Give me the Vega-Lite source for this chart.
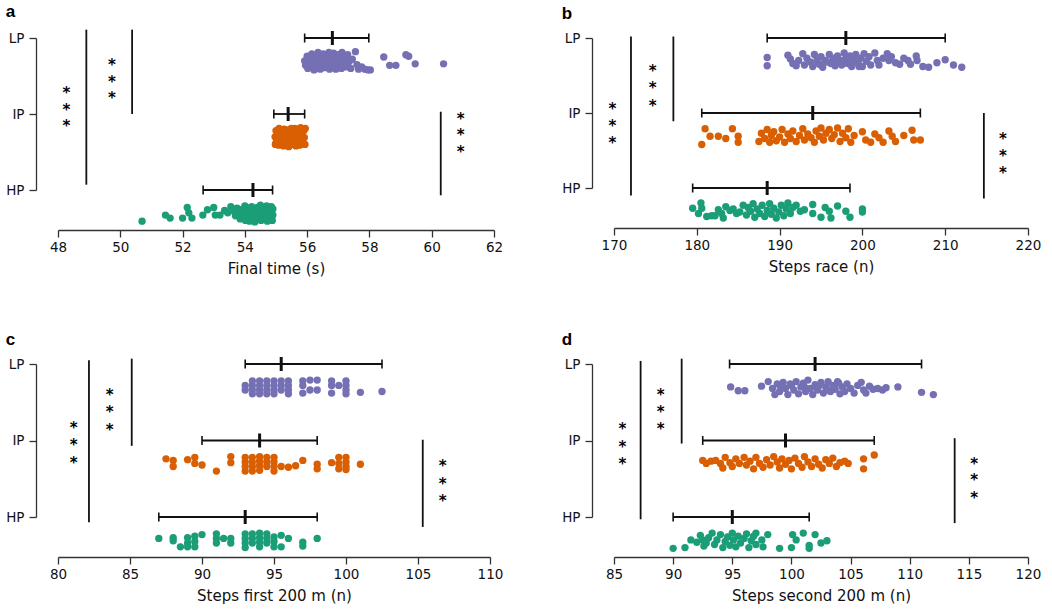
{
  "$schema": "https://vega.github.io/schema/vega-lite/v6.json",
  "padding": {"left": 5, "right": 5, "top": 2, "bottom": 3},
  "background": "white",
  "config": {
    "view": {"stroke": null},
    "font": "DejaVu Sans",
    "axis": {"grid": false, "domainColor": "#333", "tickColor": "#333", "domainWidth": 1.3, "tickWidth": 1.3, "tickSize": 7, "labelFont": "DejaVu Sans", "labelFontSize": 13.5, "labelColor": "#111", "titleFont": "DejaVu Sans", "titleFontSize": 15, "titleFontWeight": "normal", "titleColor": "#111"},
    "axisX": {"offset": 40, "labelPadding": 3, "titlePadding": 8, "labelFlush": false},
    "axisY": {"offset": 22, "labelPadding": 5},
    "tick": {"opacity": 1},
    "title": {"anchor": "start", "frame": "bounds", "font": "Liberation Sans", "fontSize": 17, "fontWeight": "bold", "color": "#000", "offset": 8}
  },
  "datasets": {
    "pts": [
      {"p":"a","g":"LP","v":55.92,"y":2.70},{"p":"a","g":"LP","v":55.95,"y":2.64},{"p":"a","g":"LP","v":56.0,"y":2.76},{"p":"a","g":"LP","v":56.02,"y":2.60},{"p":"a","g":"LP","v":56.05,"y":2.68},{"p":"a","g":"LP","v":56.1,"y":2.73},{"p":"a","g":"LP","v":56.12,"y":2.62},{"p":"a","g":"LP","v":56.15,"y":2.79},{"p":"a","g":"LP","v":56.2,"y":2.66},{"p":"a","g":"LP","v":56.22,"y":2.58},{"p":"a","g":"LP","v":56.25,"y":2.71},{"p":"a","g":"LP","v":56.3,"y":2.76},{"p":"a","g":"LP","v":56.32,"y":2.63},{"p":"a","g":"LP","v":56.35,"y":2.81},{"p":"a","g":"LP","v":56.4,"y":2.69},{"p":"a","g":"LP","v":56.42,"y":2.59},{"p":"a","g":"LP","v":56.45,"y":2.74},{"p":"a","g":"LP","v":56.5,"y":2.65},{"p":"a","g":"LP","v":56.52,"y":2.79},{"p":"a","g":"LP","v":56.55,"y":2.61},{"p":"a","g":"LP","v":56.6,"y":2.71},{"p":"a","g":"LP","v":56.62,"y":2.76},{"p":"a","g":"LP","v":56.65,"y":2.65},{"p":"a","g":"LP","v":56.7,"y":2.81},{"p":"a","g":"LP","v":56.72,"y":2.59},{"p":"a","g":"LP","v":56.75,"y":2.69},{"p":"a","g":"LP","v":56.8,"y":2.75},{"p":"a","g":"LP","v":56.82,"y":2.63},{"p":"a","g":"LP","v":56.85,"y":2.80},{"p":"a","g":"LP","v":56.9,"y":2.67},{"p":"a","g":"LP","v":56.92,"y":2.59},{"p":"a","g":"LP","v":56.95,"y":2.73},{"p":"a","g":"LP","v":57.0,"y":2.78},{"p":"a","g":"LP","v":57.02,"y":2.64},{"p":"a","g":"LP","v":57.05,"y":2.70},{"p":"a","g":"LP","v":57.1,"y":2.60},{"p":"a","g":"LP","v":57.12,"y":2.81},{"p":"a","g":"LP","v":57.15,"y":2.67},{"p":"a","g":"LP","v":57.2,"y":2.74},{"p":"a","g":"LP","v":57.25,"y":2.62},{"p":"a","g":"LP","v":57.3,"y":2.78},{"p":"a","g":"LP","v":57.35,"y":2.69},{"p":"a","g":"LP","v":57.4,"y":2.60},{"p":"a","g":"LP","v":57.45,"y":2.72},{"p":"a","g":"LP","v":57.55,"y":2.82},{"p":"a","g":"LP","v":57.6,"y":2.65},{"p":"a","g":"LP","v":57.65,"y":2.59},{"p":"a","g":"LP","v":57.75,"y":2.62},{"p":"a","g":"LP","v":57.85,"y":2.59},{"p":"a","g":"LP","v":57.95,"y":2.58},{"p":"a","g":"LP","v":58.03,"y":2.58},{"p":"a","g":"LP","v":58.46,"y":2.75},{"p":"a","g":"LP","v":58.65,"y":2.64},{"p":"a","g":"LP","v":58.85,"y":2.64},{"p":"a","g":"LP","v":59.17,"y":2.78},{"p":"a","g":"LP","v":59.26,"y":2.76},{"p":"a","g":"LP","v":59.47,"y":2.66},{"p":"a","g":"LP","v":60.38,"y":2.66},{"p":"a","g":"LP","v":56.0,"y":2.68},{"p":"a","g":"LP","v":56.3,"y":2.70},{"p":"a","g":"LP","v":56.6,"y":2.64},{"p":"a","g":"LP","v":56.9,"y":2.77},{"p":"a","g":"LP","v":56.45,"y":2.62},{"p":"a","g":"LP","v":56.15,"y":2.71},

      {"p":"a","g":"IP","v":54.97,"y":1.70},{"p":"a","g":"IP","v":54.98,"y":1.60},{"p":"a","g":"IP","v":55.0,"y":1.78},{"p":"a","g":"IP","v":55.03,"y":1.65},{"p":"a","g":"IP","v":55.06,"y":1.74},{"p":"a","g":"IP","v":55.08,"y":1.59},{"p":"a","g":"IP","v":55.1,"y":1.81},{"p":"a","g":"IP","v":55.13,"y":1.68},{"p":"a","g":"IP","v":55.16,"y":1.62},{"p":"a","g":"IP","v":55.18,"y":1.76},{"p":"a","g":"IP","v":55.21,"y":1.71},{"p":"a","g":"IP","v":55.24,"y":1.58},{"p":"a","g":"IP","v":55.26,"y":1.80},{"p":"a","g":"IP","v":55.29,"y":1.66},{"p":"a","g":"IP","v":55.31,"y":1.74},{"p":"a","g":"IP","v":55.34,"y":1.61},{"p":"a","g":"IP","v":55.36,"y":1.79},{"p":"a","g":"IP","v":55.39,"y":1.69},{"p":"a","g":"IP","v":55.41,"y":1.57},{"p":"a","g":"IP","v":55.44,"y":1.75},{"p":"a","g":"IP","v":55.46,"y":1.64},{"p":"a","g":"IP","v":55.49,"y":1.81},{"p":"a","g":"IP","v":55.51,"y":1.71},{"p":"a","g":"IP","v":55.54,"y":1.60},{"p":"a","g":"IP","v":55.56,"y":1.77},{"p":"a","g":"IP","v":55.59,"y":1.67},{"p":"a","g":"IP","v":55.61,"y":1.73},{"p":"a","g":"IP","v":55.64,"y":1.58},{"p":"a","g":"IP","v":55.66,"y":1.80},{"p":"a","g":"IP","v":55.69,"y":1.63},{"p":"a","g":"IP","v":55.71,"y":1.76},{"p":"a","g":"IP","v":55.74,"y":1.69},{"p":"a","g":"IP","v":55.76,"y":1.59},{"p":"a","g":"IP","v":55.79,"y":1.82},{"p":"a","g":"IP","v":55.81,"y":1.66},{"p":"a","g":"IP","v":55.84,"y":1.73},{"p":"a","g":"IP","v":55.86,"y":1.61},{"p":"a","g":"IP","v":55.89,"y":1.78},{"p":"a","g":"IP","v":55.91,"y":1.69},{"p":"a","g":"IP","v":55.93,"y":1.60},{"p":"a","g":"IP","v":55.94,"y":1.81},{"p":"a","g":"IP","v":55.0,"y":1.62},{"p":"a","g":"IP","v":55.2,"y":1.64},{"p":"a","g":"IP","v":55.5,"y":1.65},{"p":"a","g":"IP","v":55.8,"y":1.75},{"p":"a","g":"IP","v":55.3,"y":1.78},{"p":"a","g":"IP","v":55.6,"y":1.81},{"p":"a","g":"IP","v":55.1,"y":1.72},

      {"p":"a","g":"HP","v":50.7,"y":0.59},{"p":"a","g":"HP","v":51.45,"y":0.67},{"p":"a","g":"HP","v":51.6,"y":0.63},{"p":"a","g":"HP","v":52.0,"y":0.63},{"p":"a","g":"HP","v":52.15,"y":0.77},{"p":"a","g":"HP","v":52.2,"y":0.70},{"p":"a","g":"HP","v":52.3,"y":0.63},{"p":"a","g":"HP","v":52.65,"y":0.67},{"p":"a","g":"HP","v":52.8,"y":0.74},{"p":"a","g":"HP","v":53.0,"y":0.77},{"p":"a","g":"HP","v":53.05,"y":0.67},{"p":"a","g":"HP","v":53.2,"y":0.67},{"p":"a","g":"HP","v":53.35,"y":0.73},{"p":"a","g":"HP","v":53.45,"y":0.70},{"p":"a","g":"HP","v":53.55,"y":0.78},{"p":"a","g":"HP","v":53.65,"y":0.72},{"p":"a","g":"HP","v":53.7,"y":0.66},{"p":"a","g":"HP","v":53.75,"y":0.76},{"p":"a","g":"HP","v":53.8,"y":0.70},{"p":"a","g":"HP","v":53.85,"y":0.62},{"p":"a","g":"HP","v":53.9,"y":0.74},{"p":"a","g":"HP","v":53.95,"y":0.67},{"p":"a","g":"HP","v":54.0,"y":0.79},{"p":"a","g":"HP","v":54.02,"y":0.60},{"p":"a","g":"HP","v":54.05,"y":0.71},{"p":"a","g":"HP","v":54.1,"y":0.65},{"p":"a","g":"HP","v":54.12,"y":0.76},{"p":"a","g":"HP","v":54.15,"y":0.59},{"p":"a","g":"HP","v":54.2,"y":0.69},{"p":"a","g":"HP","v":54.22,"y":0.78},{"p":"a","g":"HP","v":54.25,"y":0.63},{"p":"a","g":"HP","v":54.3,"y":0.73},{"p":"a","g":"HP","v":54.32,"y":0.58},{"p":"a","g":"HP","v":54.35,"y":0.67},{"p":"a","g":"HP","v":54.4,"y":0.77},{"p":"a","g":"HP","v":54.42,"y":0.62},{"p":"a","g":"HP","v":54.45,"y":0.71},{"p":"a","g":"HP","v":54.5,"y":0.80},{"p":"a","g":"HP","v":54.52,"y":0.60},{"p":"a","g":"HP","v":54.55,"y":0.68},{"p":"a","g":"HP","v":54.6,"y":0.75},{"p":"a","g":"HP","v":54.62,"y":0.63},{"p":"a","g":"HP","v":54.65,"y":0.71},{"p":"a","g":"HP","v":54.7,"y":0.79},{"p":"a","g":"HP","v":54.72,"y":0.59},{"p":"a","g":"HP","v":54.75,"y":0.66},{"p":"a","g":"HP","v":54.78,"y":0.74},{"p":"a","g":"HP","v":54.8,"y":0.62},{"p":"a","g":"HP","v":54.83,"y":0.70},{"p":"a","g":"HP","v":54.85,"y":0.78},{"p":"a","g":"HP","v":54.88,"y":0.60},{"p":"a","g":"HP","v":54.9,"y":0.67},{"p":"a","g":"HP","v":54.9,"y":0.75},

      {"p":"b","g":"LP","v":188.5,"y":2.74},{"p":"b","g":"LP","v":188.5,"y":2.63},{"p":"b","g":"LP","v":191.0,"y":2.77},{"p":"b","g":"LP","v":191.3,"y":2.72},{"p":"b","g":"LP","v":191.6,"y":2.66},{"p":"b","g":"LP","v":192.0,"y":2.63},{"p":"b","g":"LP","v":192.3,"y":2.70},{"p":"b","g":"LP","v":192.8,"y":2.79},{"p":"b","g":"LP","v":193.0,"y":2.64},{"p":"b","g":"LP","v":193.3,"y":2.73},{"p":"b","g":"LP","v":193.7,"y":2.68},{"p":"b","g":"LP","v":194.0,"y":2.62},{"p":"b","g":"LP","v":194.2,"y":2.78},{"p":"b","g":"LP","v":194.5,"y":2.70},{"p":"b","g":"LP","v":194.8,"y":2.65},{"p":"b","g":"LP","v":195.0,"y":2.75},{"p":"b","g":"LP","v":195.2,"y":2.61},{"p":"b","g":"LP","v":195.5,"y":2.70},{"p":"b","g":"LP","v":196.0,"y":2.78},{"p":"b","g":"LP","v":196.2,"y":2.66},{"p":"b","g":"LP","v":196.5,"y":2.72},{"p":"b","g":"LP","v":196.7,"y":2.63},{"p":"b","g":"LP","v":197.0,"y":2.76},{"p":"b","g":"LP","v":197.2,"y":2.69},{"p":"b","g":"LP","v":197.5,"y":2.64},{"p":"b","g":"LP","v":197.8,"y":2.80},{"p":"b","g":"LP","v":198.0,"y":2.72},{"p":"b","g":"LP","v":198.2,"y":2.66},{"p":"b","g":"LP","v":198.5,"y":2.76},{"p":"b","g":"LP","v":198.7,"y":2.62},{"p":"b","g":"LP","v":199.0,"y":2.70},{"p":"b","g":"LP","v":199.2,"y":2.78},{"p":"b","g":"LP","v":199.5,"y":2.66},{"p":"b","g":"LP","v":199.8,"y":2.73},{"p":"b","g":"LP","v":200.0,"y":2.62},{"p":"b","g":"LP","v":200.2,"y":2.79},{"p":"b","g":"LP","v":200.5,"y":2.69},{"p":"b","g":"LP","v":200.8,"y":2.75},{"p":"b","g":"LP","v":201.0,"y":2.64},{"p":"b","g":"LP","v":201.5,"y":2.80},{"p":"b","g":"LP","v":201.8,"y":2.70},{"p":"b","g":"LP","v":202.0,"y":2.64},{"p":"b","g":"LP","v":202.5,"y":2.73},{"p":"b","g":"LP","v":203.0,"y":2.79},{"p":"b","g":"LP","v":203.2,"y":2.70},{"p":"b","g":"LP","v":203.5,"y":2.75},{"p":"b","g":"LP","v":204.0,"y":2.67},{"p":"b","g":"LP","v":204.5,"y":2.65},{"p":"b","g":"LP","v":205.0,"y":2.73},{"p":"b","g":"LP","v":205.5,"y":2.70},{"p":"b","g":"LP","v":205.8,"y":2.65},{"p":"b","g":"LP","v":206.5,"y":2.76},{"p":"b","g":"LP","v":206.6,"y":2.70},{"p":"b","g":"LP","v":207.3,"y":2.62},{"p":"b","g":"LP","v":208.0,"y":2.61},{"p":"b","g":"LP","v":209.0,"y":2.67},{"p":"b","g":"LP","v":210.0,"y":2.71},{"p":"b","g":"LP","v":211.0,"y":2.64},{"p":"b","g":"LP","v":212.0,"y":2.61},{"p":"b","g":"LP","v":195.8,"y":2.68},{"p":"b","g":"LP","v":196.8,"y":2.74},{"p":"b","g":"LP","v":197.6,"y":2.70},{"p":"b","g":"LP","v":198.8,"y":2.68},{"p":"b","g":"LP","v":199.6,"y":2.62},

      {"p":"b","g":"IP","v":180.6,"y":1.58},{"p":"b","g":"IP","v":181.0,"y":1.79},{"p":"b","g":"IP","v":181.6,"y":1.69},{"p":"b","g":"IP","v":182.6,"y":1.69},{"p":"b","g":"IP","v":183.5,"y":1.66},{"p":"b","g":"IP","v":184.3,"y":1.79},{"p":"b","g":"IP","v":185.0,"y":1.69},{"p":"b","g":"IP","v":185.0,"y":1.61},{"p":"b","g":"IP","v":187.5,"y":1.62},{"p":"b","g":"IP","v":187.8,"y":1.73},{"p":"b","g":"IP","v":188.2,"y":1.66},{"p":"b","g":"IP","v":188.5,"y":1.78},{"p":"b","g":"IP","v":188.8,"y":1.61},{"p":"b","g":"IP","v":189.0,"y":1.70},{"p":"b","g":"IP","v":189.3,"y":1.75},{"p":"b","g":"IP","v":189.6,"y":1.63},{"p":"b","g":"IP","v":190.0,"y":1.68},{"p":"b","g":"IP","v":190.3,"y":1.78},{"p":"b","g":"IP","v":190.6,"y":1.61},{"p":"b","g":"IP","v":191.0,"y":1.72},{"p":"b","g":"IP","v":191.3,"y":1.66},{"p":"b","g":"IP","v":191.6,"y":1.76},{"p":"b","g":"IP","v":192.0,"y":1.62},{"p":"b","g":"IP","v":192.4,"y":1.70},{"p":"b","g":"IP","v":192.8,"y":1.79},{"p":"b","g":"IP","v":193.0,"y":1.64},{"p":"b","g":"IP","v":193.4,"y":1.72},{"p":"b","g":"IP","v":193.8,"y":1.67},{"p":"b","g":"IP","v":194.2,"y":1.61},{"p":"b","g":"IP","v":194.4,"y":1.76},{"p":"b","g":"IP","v":194.8,"y":1.69},{"p":"b","g":"IP","v":195.0,"y":1.80},{"p":"b","g":"IP","v":195.3,"y":1.64},{"p":"b","g":"IP","v":195.6,"y":1.73},{"p":"b","g":"IP","v":196.0,"y":1.78},{"p":"b","g":"IP","v":196.3,"y":1.66},{"p":"b","g":"IP","v":196.6,"y":1.71},{"p":"b","g":"IP","v":197.0,"y":1.80},{"p":"b","g":"IP","v":197.3,"y":1.62},{"p":"b","g":"IP","v":197.6,"y":1.73},{"p":"b","g":"IP","v":198.0,"y":1.67},{"p":"b","g":"IP","v":198.3,"y":1.79},{"p":"b","g":"IP","v":198.6,"y":1.61},{"p":"b","g":"IP","v":199.0,"y":1.70},{"p":"b","g":"IP","v":200.0,"y":1.75},{"p":"b","g":"IP","v":200.4,"y":1.64},{"p":"b","g":"IP","v":201.0,"y":1.61},{"p":"b","g":"IP","v":201.5,"y":1.72},{"p":"b","g":"IP","v":202.0,"y":1.67},{"p":"b","g":"IP","v":202.5,"y":1.61},{"p":"b","g":"IP","v":203.2,"y":1.76},{"p":"b","g":"IP","v":203.6,"y":1.69},{"p":"b","g":"IP","v":204.0,"y":1.62},{"p":"b","g":"IP","v":205.0,"y":1.70},{"p":"b","g":"IP","v":206.0,"y":1.77},{"p":"b","g":"IP","v":206.2,"y":1.64},{"p":"b","g":"IP","v":207.0,"y":1.64},

      {"p":"b","g":"HP","v":179.5,"y":0.73},{"p":"b","g":"HP","v":180.2,"y":0.66},{"p":"b","g":"HP","v":180.5,"y":0.80},{"p":"b","g":"HP","v":180.6,"y":0.73},{"p":"b","g":"HP","v":181.2,"y":0.62},{"p":"b","g":"HP","v":181.8,"y":0.63},{"p":"b","g":"HP","v":182.2,"y":0.63},{"p":"b","g":"HP","v":182.6,"y":0.71},{"p":"b","g":"HP","v":183.0,"y":0.66},{"p":"b","g":"HP","v":183.2,"y":0.60},{"p":"b","g":"HP","v":183.5,"y":0.75},{"p":"b","g":"HP","v":184.0,"y":0.70},{"p":"b","g":"HP","v":184.4,"y":0.72},{"p":"b","g":"HP","v":184.8,"y":0.66},{"p":"b","g":"HP","v":185.2,"y":0.68},{"p":"b","g":"HP","v":185.6,"y":0.77},{"p":"b","g":"HP","v":186.0,"y":0.64},{"p":"b","g":"HP","v":186.2,"y":0.74},{"p":"b","g":"HP","v":186.5,"y":0.69},{"p":"b","g":"HP","v":186.8,"y":0.79},{"p":"b","g":"HP","v":187.0,"y":0.61},{"p":"b","g":"HP","v":187.3,"y":0.72},{"p":"b","g":"HP","v":187.6,"y":0.66},{"p":"b","g":"HP","v":187.9,"y":0.77},{"p":"b","g":"HP","v":188.2,"y":0.62},{"p":"b","g":"HP","v":188.5,"y":0.70},{"p":"b","g":"HP","v":188.8,"y":0.79},{"p":"b","g":"HP","v":189.0,"y":0.65},{"p":"b","g":"HP","v":189.3,"y":0.73},{"p":"b","g":"HP","v":189.6,"y":0.60},{"p":"b","g":"HP","v":189.9,"y":0.68},{"p":"b","g":"HP","v":190.2,"y":0.77},{"p":"b","g":"HP","v":190.5,"y":0.63},{"p":"b","g":"HP","v":190.8,"y":0.72},{"p":"b","g":"HP","v":191.0,"y":0.80},{"p":"b","g":"HP","v":191.3,"y":0.66},{"p":"b","g":"HP","v":191.6,"y":0.74},{"p":"b","g":"HP","v":192.0,"y":0.77},{"p":"b","g":"HP","v":192.5,"y":0.69},{"p":"b","g":"HP","v":193.0,"y":0.71},{"p":"b","g":"HP","v":194.0,"y":0.78},{"p":"b","g":"HP","v":194.0,"y":0.66},{"p":"b","g":"HP","v":195.0,"y":0.61},{"p":"b","g":"HP","v":195.5,"y":0.74},{"p":"b","g":"HP","v":196.0,"y":0.69},{"p":"b","g":"HP","v":196.2,"y":0.60},{"p":"b","g":"HP","v":197.0,"y":0.76},{"p":"b","g":"HP","v":198.0,"y":0.69},{"p":"b","g":"HP","v":198.5,"y":0.61},{"p":"b","g":"HP","v":200.0,"y":0.72},{"p":"b","g":"HP","v":200.0,"y":0.68},

      {"p":"c","g":"LP","v":93.0,"y":2.72},{"p":"c","g":"LP","v":93.0,"y":2.66},{"p":"c","g":"LP","v":93.5,"y":2.78},{"p":"c","g":"LP","v":93.5,"y":2.72},{"p":"c","g":"LP","v":93.5,"y":2.66},{"p":"c","g":"LP","v":93.5,"y":2.61},{"p":"c","g":"LP","v":94.0,"y":2.78},{"p":"c","g":"LP","v":94.0,"y":2.72},{"p":"c","g":"LP","v":94.0,"y":2.66},{"p":"c","g":"LP","v":94.0,"y":2.61},{"p":"c","g":"LP","v":94.5,"y":2.78},{"p":"c","g":"LP","v":94.5,"y":2.72},{"p":"c","g":"LP","v":94.5,"y":2.66},{"p":"c","g":"LP","v":94.5,"y":2.61},{"p":"c","g":"LP","v":95.0,"y":2.78},{"p":"c","g":"LP","v":95.0,"y":2.72},{"p":"c","g":"LP","v":95.0,"y":2.66},{"p":"c","g":"LP","v":95.0,"y":2.61},{"p":"c","g":"LP","v":95.5,"y":2.78},{"p":"c","g":"LP","v":95.5,"y":2.72},{"p":"c","g":"LP","v":95.5,"y":2.66},{"p":"c","g":"LP","v":96.0,"y":2.78},{"p":"c","g":"LP","v":96.0,"y":2.72},{"p":"c","g":"LP","v":96.0,"y":2.66},{"p":"c","g":"LP","v":96.0,"y":2.61},{"p":"c","g":"LP","v":97.0,"y":2.78},{"p":"c","g":"LP","v":97.0,"y":2.72},{"p":"c","g":"LP","v":97.0,"y":2.62},{"p":"c","g":"LP","v":97.5,"y":2.79},{"p":"c","g":"LP","v":97.5,"y":2.66},{"p":"c","g":"LP","v":98.0,"y":2.79},{"p":"c","g":"LP","v":98.0,"y":2.66},{"p":"c","g":"LP","v":99.0,"y":2.78},{"p":"c","g":"LP","v":99.0,"y":2.72},{"p":"c","g":"LP","v":99.0,"y":2.62},{"p":"c","g":"LP","v":99.5,"y":2.72},{"p":"c","g":"LP","v":100.0,"y":2.78},{"p":"c","g":"LP","v":100.0,"y":2.72},{"p":"c","g":"LP","v":100.0,"y":2.66},{"p":"c","g":"LP","v":100.0,"y":2.61},{"p":"c","g":"LP","v":101.0,"y":2.63},{"p":"c","g":"LP","v":102.5,"y":2.64},

      {"p":"c","g":"IP","v":87.5,"y":1.76},{"p":"c","g":"IP","v":88.0,"y":1.74},{"p":"c","g":"IP","v":88.0,"y":1.66},{"p":"c","g":"IP","v":89.0,"y":1.75},{"p":"c","g":"IP","v":89.5,"y":1.78},{"p":"c","g":"IP","v":89.5,"y":1.70},{"p":"c","g":"IP","v":90.0,"y":1.68},{"p":"c","g":"IP","v":91.0,"y":1.60},{"p":"c","g":"IP","v":92.0,"y":1.79},{"p":"c","g":"IP","v":92.0,"y":1.71},{"p":"c","g":"IP","v":93.0,"y":1.78},{"p":"c","g":"IP","v":93.0,"y":1.72},{"p":"c","g":"IP","v":93.0,"y":1.66},{"p":"c","g":"IP","v":93.0,"y":1.60},{"p":"c","g":"IP","v":93.5,"y":1.78},{"p":"c","g":"IP","v":93.5,"y":1.72},{"p":"c","g":"IP","v":93.5,"y":1.66},{"p":"c","g":"IP","v":93.5,"y":1.60},{"p":"c","g":"IP","v":94.0,"y":1.79},{"p":"c","g":"IP","v":94.0,"y":1.73},{"p":"c","g":"IP","v":94.0,"y":1.67},{"p":"c","g":"IP","v":94.0,"y":1.61},{"p":"c","g":"IP","v":94.5,"y":1.78},{"p":"c","g":"IP","v":94.5,"y":1.72},{"p":"c","g":"IP","v":94.5,"y":1.66},{"p":"c","g":"IP","v":95.0,"y":1.78},{"p":"c","g":"IP","v":95.0,"y":1.72},{"p":"c","g":"IP","v":95.0,"y":1.66},{"p":"c","g":"IP","v":95.0,"y":1.60},{"p":"c","g":"IP","v":95.5,"y":1.66},{"p":"c","g":"IP","v":96.0,"y":1.65},{"p":"c","g":"IP","v":96.5,"y":1.67},{"p":"c","g":"IP","v":97.0,"y":1.74},{"p":"c","g":"IP","v":98.0,"y":1.69},{"p":"c","g":"IP","v":98.0,"y":1.63},{"p":"c","g":"IP","v":99.0,"y":1.71},{"p":"c","g":"IP","v":99.5,"y":1.78},{"p":"c","g":"IP","v":99.5,"y":1.70},{"p":"c","g":"IP","v":99.5,"y":1.63},{"p":"c","g":"IP","v":100.0,"y":1.78},{"p":"c","g":"IP","v":100.0,"y":1.72},{"p":"c","g":"IP","v":100.0,"y":1.66},{"p":"c","g":"IP","v":100.0,"y":1.62},{"p":"c","g":"IP","v":101.0,"y":1.69},

      {"p":"c","g":"HP","v":87.0,"y":0.72},{"p":"c","g":"HP","v":88.0,"y":0.73},{"p":"c","g":"HP","v":88.0,"y":0.69},{"p":"c","g":"HP","v":88.5,"y":0.61},{"p":"c","g":"HP","v":89.0,"y":0.73},{"p":"c","g":"HP","v":89.0,"y":0.66},{"p":"c","g":"HP","v":89.0,"y":0.61},{"p":"c","g":"HP","v":89.5,"y":0.75},{"p":"c","g":"HP","v":89.5,"y":0.68},{"p":"c","g":"HP","v":89.5,"y":0.61},{"p":"c","g":"HP","v":90.0,"y":0.77},{"p":"c","g":"HP","v":91.0,"y":0.78},{"p":"c","g":"HP","v":91.0,"y":0.72},{"p":"c","g":"HP","v":91.0,"y":0.66},{"p":"c","g":"HP","v":91.5,"y":0.72},{"p":"c","g":"HP","v":92.0,"y":0.72},{"p":"c","g":"HP","v":92.0,"y":0.66},{"p":"c","g":"HP","v":93.0,"y":0.78},{"p":"c","g":"HP","v":93.0,"y":0.72},{"p":"c","g":"HP","v":93.0,"y":0.66},{"p":"c","g":"HP","v":93.0,"y":0.60},{"p":"c","g":"HP","v":93.5,"y":0.78},{"p":"c","g":"HP","v":93.5,"y":0.72},{"p":"c","g":"HP","v":93.5,"y":0.66},{"p":"c","g":"HP","v":94.0,"y":0.79},{"p":"c","g":"HP","v":94.0,"y":0.73},{"p":"c","g":"HP","v":94.0,"y":0.67},{"p":"c","g":"HP","v":94.0,"y":0.61},{"p":"c","g":"HP","v":94.5,"y":0.78},{"p":"c","g":"HP","v":94.5,"y":0.72},{"p":"c","g":"HP","v":94.5,"y":0.66},{"p":"c","g":"HP","v":95.0,"y":0.74},{"p":"c","g":"HP","v":95.0,"y":0.68},{"p":"c","g":"HP","v":95.0,"y":0.61},{"p":"c","g":"HP","v":95.5,"y":0.76},{"p":"c","g":"HP","v":95.5,"y":0.61},{"p":"c","g":"HP","v":96.0,"y":0.72},{"p":"c","g":"HP","v":97.0,"y":0.67},{"p":"c","g":"HP","v":97.0,"y":0.62},{"p":"c","g":"HP","v":98.0,"y":0.72},

      {"p":"d","g":"LP","v":94.86,"y":2.70},{"p":"d","g":"LP","v":95.5,"y":2.65},{"p":"d","g":"LP","v":96.06,"y":2.65},{"p":"d","g":"LP","v":97.47,"y":2.71},{"p":"d","g":"LP","v":98.04,"y":2.77},{"p":"d","g":"LP","v":98.4,"y":2.68},{"p":"d","g":"LP","v":98.6,"y":2.60},{"p":"d","g":"LP","v":98.8,"y":2.74},{"p":"d","g":"LP","v":99.0,"y":2.64},{"p":"d","g":"LP","v":99.3,"y":2.76},{"p":"d","g":"LP","v":99.5,"y":2.68},{"p":"d","g":"LP","v":99.7,"y":2.60},{"p":"d","g":"LP","v":99.9,"y":2.74},{"p":"d","g":"LP","v":100.2,"y":2.66},{"p":"d","g":"LP","v":100.4,"y":2.77},{"p":"d","g":"LP","v":100.6,"y":2.61},{"p":"d","g":"LP","v":100.8,"y":2.70},{"p":"d","g":"LP","v":101.0,"y":2.75},{"p":"d","g":"LP","v":101.2,"y":2.64},{"p":"d","g":"LP","v":101.4,"y":2.79},{"p":"d","g":"LP","v":101.6,"y":2.68},{"p":"d","g":"LP","v":101.8,"y":2.60},{"p":"d","g":"LP","v":102.0,"y":2.73},{"p":"d","g":"LP","v":102.2,"y":2.66},{"p":"d","g":"LP","v":102.5,"y":2.76},{"p":"d","g":"LP","v":102.7,"y":2.62},{"p":"d","g":"LP","v":102.9,"y":2.70},{"p":"d","g":"LP","v":103.1,"y":2.77},{"p":"d","g":"LP","v":103.3,"y":2.64},{"p":"d","g":"LP","v":103.5,"y":2.72},{"p":"d","g":"LP","v":103.7,"y":2.67},{"p":"d","g":"LP","v":103.9,"y":2.77},{"p":"d","g":"LP","v":104.1,"y":2.61},{"p":"d","g":"LP","v":104.3,"y":2.70},{"p":"d","g":"LP","v":104.5,"y":2.64},{"p":"d","g":"LP","v":104.7,"y":2.74},{"p":"d","g":"LP","v":105.0,"y":2.68},{"p":"d","g":"LP","v":105.3,"y":2.62},{"p":"d","g":"LP","v":105.6,"y":2.72},{"p":"d","g":"LP","v":105.9,"y":2.76},{"p":"d","g":"LP","v":106.1,"y":2.66},{"p":"d","g":"LP","v":106.3,"y":2.62},{"p":"d","g":"LP","v":106.6,"y":2.71},{"p":"d","g":"LP","v":106.9,"y":2.67},{"p":"d","g":"LP","v":107.3,"y":2.68},{"p":"d","g":"LP","v":107.7,"y":2.66},{"p":"d","g":"LP","v":108.0,"y":2.69},{"p":"d","g":"LP","v":109.0,"y":2.70},{"p":"d","g":"LP","v":111.0,"y":2.63},{"p":"d","g":"LP","v":112.0,"y":2.60},{"p":"d","g":"LP","v":99.1,"y":2.70},{"p":"d","g":"LP","v":100.0,"y":2.72},{"p":"d","g":"LP","v":101.1,"y":2.70},{"p":"d","g":"LP","v":102.3,"y":2.71},{"p":"d","g":"LP","v":103.0,"y":2.66},{"p":"d","g":"LP","v":104.0,"y":2.75},

      {"p":"d","g":"IP","v":92.5,"y":1.74},{"p":"d","g":"IP","v":92.8,"y":1.70},{"p":"d","g":"IP","v":93.2,"y":1.73},{"p":"d","g":"IP","v":93.6,"y":1.74},{"p":"d","g":"IP","v":94.0,"y":1.70},{"p":"d","g":"IP","v":94.2,"y":1.64},{"p":"d","g":"IP","v":94.4,"y":1.78},{"p":"d","g":"IP","v":94.8,"y":1.71},{"p":"d","g":"IP","v":95.0,"y":1.66},{"p":"d","g":"IP","v":95.3,"y":1.76},{"p":"d","g":"IP","v":95.6,"y":1.70},{"p":"d","g":"IP","v":96.0,"y":1.78},{"p":"d","g":"IP","v":96.2,"y":1.68},{"p":"d","g":"IP","v":96.5,"y":1.73},{"p":"d","g":"IP","v":96.8,"y":1.63},{"p":"d","g":"IP","v":97.0,"y":1.78},{"p":"d","g":"IP","v":97.3,"y":1.70},{"p":"d","g":"IP","v":97.6,"y":1.65},{"p":"d","g":"IP","v":97.9,"y":1.75},{"p":"d","g":"IP","v":98.2,"y":1.68},{"p":"d","g":"IP","v":98.5,"y":1.79},{"p":"d","g":"IP","v":98.8,"y":1.72},{"p":"d","g":"IP","v":99.0,"y":1.64},{"p":"d","g":"IP","v":99.2,"y":1.76},{"p":"d","g":"IP","v":99.5,"y":1.69},{"p":"d","g":"IP","v":99.8,"y":1.74},{"p":"d","g":"IP","v":100.0,"y":1.63},{"p":"d","g":"IP","v":100.3,"y":1.77},{"p":"d","g":"IP","v":100.6,"y":1.70},{"p":"d","g":"IP","v":100.9,"y":1.65},{"p":"d","g":"IP","v":101.1,"y":1.79},{"p":"d","g":"IP","v":101.4,"y":1.72},{"p":"d","g":"IP","v":101.7,"y":1.66},{"p":"d","g":"IP","v":102.0,"y":1.76},{"p":"d","g":"IP","v":102.3,"y":1.69},{"p":"d","g":"IP","v":102.6,"y":1.64},{"p":"d","g":"IP","v":102.9,"y":1.75},{"p":"d","g":"IP","v":103.2,"y":1.70},{"p":"d","g":"IP","v":103.5,"y":1.77},{"p":"d","g":"IP","v":103.8,"y":1.66},{"p":"d","g":"IP","v":104.1,"y":1.71},{"p":"d","g":"IP","v":104.5,"y":1.73},{"p":"d","g":"IP","v":104.8,"y":1.70},{"p":"d","g":"IP","v":106.1,"y":1.76},{"p":"d","g":"IP","v":106.1,"y":1.63},{"p":"d","g":"IP","v":107.0,"y":1.81},

      {"p":"d","g":"HP","v":90.0,"y":0.59},{"p":"d","g":"HP","v":91.0,"y":0.60},{"p":"d","g":"HP","v":91.5,"y":0.70},{"p":"d","g":"HP","v":92.0,"y":0.67},{"p":"d","g":"HP","v":92.3,"y":0.76},{"p":"d","g":"HP","v":92.5,"y":0.70},{"p":"d","g":"HP","v":92.6,"y":0.62},{"p":"d","g":"HP","v":92.8,"y":0.66},{"p":"d","g":"HP","v":93.0,"y":0.73},{"p":"d","g":"HP","v":93.3,"y":0.79},{"p":"d","g":"HP","v":93.5,"y":0.64},{"p":"d","g":"HP","v":93.7,"y":0.70},{"p":"d","g":"HP","v":94.0,"y":0.77},{"p":"d","g":"HP","v":94.2,"y":0.60},{"p":"d","g":"HP","v":94.4,"y":0.68},{"p":"d","g":"HP","v":94.6,"y":0.74},{"p":"d","g":"HP","v":94.8,"y":0.63},{"p":"d","g":"HP","v":95.0,"y":0.79},{"p":"d","g":"HP","v":95.1,"y":0.70},{"p":"d","g":"HP","v":95.3,"y":0.61},{"p":"d","g":"HP","v":95.5,"y":0.75},{"p":"d","g":"HP","v":95.7,"y":0.66},{"p":"d","g":"HP","v":96.0,"y":0.72},{"p":"d","g":"HP","v":96.2,"y":0.78},{"p":"d","g":"HP","v":96.4,"y":0.60},{"p":"d","g":"HP","v":96.6,"y":0.69},{"p":"d","g":"HP","v":96.8,"y":0.75},{"p":"d","g":"HP","v":97.0,"y":0.64},{"p":"d","g":"HP","v":97.0,"y":0.79},{"p":"d","g":"HP","v":97.5,"y":0.70},{"p":"d","g":"HP","v":97.6,"y":0.61},{"p":"d","g":"HP","v":98.0,"y":0.77},{"p":"d","g":"HP","v":99.0,"y":0.59},{"p":"d","g":"HP","v":100.0,"y":0.60},{"p":"d","g":"HP","v":100.1,"y":0.77},{"p":"d","g":"HP","v":100.4,"y":0.70},{"p":"d","g":"HP","v":101.0,"y":0.79},{"p":"d","g":"HP","v":101.5,"y":0.63},{"p":"d","g":"HP","v":101.5,"y":0.59},{"p":"d","g":"HP","v":102.0,"y":0.77},{"p":"d","g":"HP","v":102.5,"y":0.66},{"p":"d","g":"HP","v":103.0,"y":0.69}
    ],
    "stats": [
      {"p":"a","g":"LP","y":3,"lo":55.92,"v":56.81,"hi":57.98},
      {"p":"a","g":"IP","y":2,"lo":54.93,"v":55.39,"hi":55.92},
      {"p":"a","g":"HP","y":1,"lo":52.66,"v":54.26,"hi":54.89},
      {"p":"b","g":"LP","y":3,"lo":188.5,"v":198.0,"hi":210.0},
      {"p":"b","g":"IP","y":2,"lo":180.6,"v":194.0,"hi":207.0},
      {"p":"b","g":"HP","y":1,"lo":179.5,"v":188.5,"hi":198.5},
      {"p":"c","g":"LP","y":3,"lo":93.0,"v":95.5,"hi":102.5},
      {"p":"c","g":"IP","y":2,"lo":90.0,"v":94.0,"hi":98.0},
      {"p":"c","g":"HP","y":1,"lo":87.0,"v":93.0,"hi":98.0},
      {"p":"d","g":"LP","y":3,"lo":94.77,"v":102.0,"hi":111.0},
      {"p":"d","g":"IP","y":2,"lo":92.5,"v":99.5,"hi":107.0},
      {"p":"d","g":"HP","y":1,"lo":90.0,"v":95.0,"hi":101.5}
    ],
    "sig": [
      {"p":"a","v":48.91,"y":3.11,"y2":1.07},{"p":"a","v":50.38,"y":3.11,"y2":2.0},{"p":"a","v":60.29,"y":2.03,"y2":0.93},
      {"p":"b","v":172.05,"y":3.02,"y2":0.9},{"p":"b","v":177.17,"y":3.02,"y2":1.89},{"p":"b","v":214.67,"y":2.0,"y2":0.86},
      {"p":"c","v":82.15,"y":3.05,"y2":0.93},{"p":"c","v":85.12,"y":3.07,"y2":1.93},{"p":"c","v":105.33,"y":2.01,"y2":0.87},
      {"p":"d","v":87.25,"y":3.04,"y2":0.97},{"p":"d","v":90.72,"y":3.07,"y2":1.96},{"p":"d","v":113.8,"y":2.03,"y2":0.92}
    ],
    "stars": [
      {"p":"a","v":48.27,"y":2.33},{"p":"a","v":48.27,"y":2.11},{"p":"a","v":48.27,"y":1.89},
      {"p":"a","v":49.73,"y":2.70},{"p":"a","v":49.73,"y":2.48},{"p":"a","v":49.73,"y":2.26},
      {"p":"a","v":60.93,"y":1.99},{"p":"a","v":60.93,"y":1.77},{"p":"a","v":60.93,"y":1.55},
      {"p":"b","v":169.8,"y":2.11},{"p":"b","v":169.8,"y":1.88},{"p":"b","v":169.8,"y":1.65},
      {"p":"b","v":174.67,"y":2.61},{"p":"b","v":174.67,"y":2.39},{"p":"b","v":174.67,"y":2.15},
      {"p":"b","v":216.98,"y":1.71},{"p":"b","v":216.98,"y":1.48},{"p":"b","v":216.98,"y":1.25},
      {"p":"c","v":81.09,"y":2.21},{"p":"c","v":81.09,"y":1.99},{"p":"c","v":81.09,"y":1.76},
      {"p":"c","v":83.59,"y":2.65},{"p":"c","v":83.59,"y":2.42},{"p":"c","v":83.59,"y":2.19},
      {"p":"c","v":106.72,"y":1.72},{"p":"c","v":106.72,"y":1.49},{"p":"c","v":106.72,"y":1.26},
      {"p":"d","v":85.71,"y":2.20},{"p":"d","v":85.71,"y":1.97},{"p":"d","v":85.71,"y":1.75},
      {"p":"d","v":88.94,"y":2.65},{"p":"d","v":88.94,"y":2.43},{"p":"d","v":88.94,"y":2.20},
      {"p":"d","v":115.44,"y":1.75},{"p":"d","v":115.44,"y":1.53},{"p":"d","v":115.44,"y":1.30}
    ]
  },
  "spacing": 54,
  "vconcat": [
    {
      "spacing": 58,
      "hconcat": [
        {
          "title": "a",
          "width": 436, "height": 152,
          "encoding": {
            "x": {"field": "v", "type": "quantitative", "scale": {"domain": [48, 62], "nice": false, "zero": false}, "axis": {"values": [48, 50, 52, 54, 56, 58, 60, 62], "title": "Final time (s)"}},
            "y": {"field": "y", "type": "quantitative", "scale": {"domain": [1, 3], "nice": false, "zero": false}, "axis": {"values": [1, 2, 3], "labelExpr": "datum.value == 3 ? 'LP' : datum.value == 2 ? 'IP' : 'HP'", "title": null}}
          },
          "layer": [
            {"data": {"name": "pts"}, "transform": [{"filter": "datum.p == 'a'"}], "mark": {"type": "circle", "size": 54, "opacity": 1}, "encoding": {"color": {"field": "g", "type": "nominal", "scale": {"domain": ["LP", "IP", "HP"], "range": ["#7570b3", "#d95f02", "#1b9e77"]}, "legend": null}}},
            {"data": {"name": "stats"}, "transform": [{"filter": "datum.p == 'a'"}], "mark": {"type": "rule", "color": "#111", "strokeWidth": 1.8}, "encoding": {"x": {"field": "lo", "type": "quantitative"}, "x2": {"field": "hi"}}},
            {"data": {"name": "stats"}, "transform": [{"filter": "datum.p == 'a'"}], "mark": {"type": "tick", "orient": "vertical", "color": "#111", "thickness": 1.6, "size": 9, "opacity": 1}, "encoding": {"x": {"field": "lo", "type": "quantitative"}}},
            {"data": {"name": "stats"}, "transform": [{"filter": "datum.p == 'a'"}], "mark": {"type": "tick", "orient": "vertical", "color": "#111", "thickness": 1.6, "size": 9, "opacity": 1}, "encoding": {"x": {"field": "hi", "type": "quantitative"}}},
            {"data": {"name": "stats"}, "transform": [{"filter": "datum.p == 'a'"}], "mark": {"type": "tick", "orient": "vertical", "color": "#111", "thickness": 3, "size": 14, "opacity": 1}},
            {"data": {"name": "sig"}, "transform": [{"filter": "datum.p == 'a'"}], "mark": {"type": "rule", "color": "#111", "strokeWidth": 1.8}, "encoding": {"y2": {"field": "y2"}}},
            {"data": {"name": "stars"}, "transform": [{"filter": "datum.p == 'a'"}], "mark": {"type": "text", "text": "*", "fontSize": 15, "fontWeight": "bold", "dy": 4, "color": "#000"}}
          ]
        },
        {
          "title": "b",
          "width": 414, "height": 150,
          "encoding": {
            "x": {"field": "v", "type": "quantitative", "scale": {"domain": [170, 220], "nice": false, "zero": false}, "axis": {"values": [170, 180, 190, 200, 210, 220], "title": "Steps race (n)"}},
            "y": {"field": "y", "type": "quantitative", "scale": {"domain": [1, 3], "nice": false, "zero": false}, "axis": {"values": [1, 2, 3], "labelExpr": "datum.value == 3 ? 'LP' : datum.value == 2 ? 'IP' : 'HP'", "title": null}}
          },
          "layer": [
            {"data": {"name": "pts"}, "transform": [{"filter": "datum.p == 'b'"}], "mark": {"type": "circle", "size": 54, "opacity": 1}, "encoding": {"color": {"field": "g", "type": "nominal", "scale": {"domain": ["LP", "IP", "HP"], "range": ["#7570b3", "#d95f02", "#1b9e77"]}, "legend": null}}},
            {"data": {"name": "stats"}, "transform": [{"filter": "datum.p == 'b'"}], "mark": {"type": "rule", "color": "#111", "strokeWidth": 1.8}, "encoding": {"x": {"field": "lo", "type": "quantitative"}, "x2": {"field": "hi"}}},
            {"data": {"name": "stats"}, "transform": [{"filter": "datum.p == 'b'"}], "mark": {"type": "tick", "orient": "vertical", "color": "#111", "thickness": 1.6, "size": 9, "opacity": 1}, "encoding": {"x": {"field": "lo", "type": "quantitative"}}},
            {"data": {"name": "stats"}, "transform": [{"filter": "datum.p == 'b'"}], "mark": {"type": "tick", "orient": "vertical", "color": "#111", "thickness": 1.6, "size": 9, "opacity": 1}, "encoding": {"x": {"field": "hi", "type": "quantitative"}}},
            {"data": {"name": "stats"}, "transform": [{"filter": "datum.p == 'b'"}], "mark": {"type": "tick", "orient": "vertical", "color": "#111", "thickness": 3, "size": 14, "opacity": 1}},
            {"data": {"name": "sig"}, "transform": [{"filter": "datum.p == 'b'"}], "mark": {"type": "rule", "color": "#111", "strokeWidth": 1.8}, "encoding": {"y2": {"field": "y2"}}},
            {"data": {"name": "stars"}, "transform": [{"filter": "datum.p == 'b'"}], "mark": {"type": "text", "text": "*", "fontSize": 15, "fontWeight": "bold", "dy": 4, "color": "#000"}}
          ]
        }
      ]
    },
    {
      "spacing": 58,
      "hconcat": [
        {
          "title": "c",
          "width": 432, "height": 153,
          "encoding": {
            "x": {"field": "v", "type": "quantitative", "scale": {"domain": [80, 110], "nice": false, "zero": false}, "axis": {"values": [80, 85, 90, 95, 100, 105, 110], "title": "Steps first 200 m (n)"}},
            "y": {"field": "y", "type": "quantitative", "scale": {"domain": [1, 3], "nice": false, "zero": false}, "axis": {"values": [1, 2, 3], "labelExpr": "datum.value == 3 ? 'LP' : datum.value == 2 ? 'IP' : 'HP'", "title": null}}
          },
          "layer": [
            {"data": {"name": "pts"}, "transform": [{"filter": "datum.p == 'c'"}], "mark": {"type": "circle", "size": 54, "opacity": 1}, "encoding": {"color": {"field": "g", "type": "nominal", "scale": {"domain": ["LP", "IP", "HP"], "range": ["#7570b3", "#d95f02", "#1b9e77"]}, "legend": null}}},
            {"data": {"name": "stats"}, "transform": [{"filter": "datum.p == 'c'"}], "mark": {"type": "rule", "color": "#111", "strokeWidth": 1.8}, "encoding": {"x": {"field": "lo", "type": "quantitative"}, "x2": {"field": "hi"}}},
            {"data": {"name": "stats"}, "transform": [{"filter": "datum.p == 'c'"}], "mark": {"type": "tick", "orient": "vertical", "color": "#111", "thickness": 1.6, "size": 9, "opacity": 1}, "encoding": {"x": {"field": "lo", "type": "quantitative"}}},
            {"data": {"name": "stats"}, "transform": [{"filter": "datum.p == 'c'"}], "mark": {"type": "tick", "orient": "vertical", "color": "#111", "thickness": 1.6, "size": 9, "opacity": 1}, "encoding": {"x": {"field": "hi", "type": "quantitative"}}},
            {"data": {"name": "stats"}, "transform": [{"filter": "datum.p == 'c'"}], "mark": {"type": "tick", "orient": "vertical", "color": "#111", "thickness": 3, "size": 14, "opacity": 1}},
            {"data": {"name": "sig"}, "transform": [{"filter": "datum.p == 'c'"}], "mark": {"type": "rule", "color": "#111", "strokeWidth": 1.8}, "encoding": {"y2": {"field": "y2"}}},
            {"data": {"name": "stars"}, "transform": [{"filter": "datum.p == 'c'"}], "mark": {"type": "text", "text": "*", "fontSize": 15, "fontWeight": "bold", "dy": 4, "color": "#000"}}
          ]
        },
        {
          "title": "d",
          "width": 414, "height": 153,
          "encoding": {
            "x": {"field": "v", "type": "quantitative", "scale": {"domain": [85, 120], "nice": false, "zero": false}, "axis": {"values": [85, 90, 95, 100, 105, 110, 115, 120], "title": "Steps second 200 m (n)"}},
            "y": {"field": "y", "type": "quantitative", "scale": {"domain": [1, 3], "nice": false, "zero": false}, "axis": {"values": [1, 2, 3], "labelExpr": "datum.value == 3 ? 'LP' : datum.value == 2 ? 'IP' : 'HP'", "title": null}}
          },
          "layer": [
            {"data": {"name": "pts"}, "transform": [{"filter": "datum.p == 'd'"}], "mark": {"type": "circle", "size": 54, "opacity": 1}, "encoding": {"color": {"field": "g", "type": "nominal", "scale": {"domain": ["LP", "IP", "HP"], "range": ["#7570b3", "#d95f02", "#1b9e77"]}, "legend": null}}},
            {"data": {"name": "stats"}, "transform": [{"filter": "datum.p == 'd'"}], "mark": {"type": "rule", "color": "#111", "strokeWidth": 1.8}, "encoding": {"x": {"field": "lo", "type": "quantitative"}, "x2": {"field": "hi"}}},
            {"data": {"name": "stats"}, "transform": [{"filter": "datum.p == 'd'"}], "mark": {"type": "tick", "orient": "vertical", "color": "#111", "thickness": 1.6, "size": 9, "opacity": 1}, "encoding": {"x": {"field": "lo", "type": "quantitative"}}},
            {"data": {"name": "stats"}, "transform": [{"filter": "datum.p == 'd'"}], "mark": {"type": "tick", "orient": "vertical", "color": "#111", "thickness": 1.6, "size": 9, "opacity": 1}, "encoding": {"x": {"field": "hi", "type": "quantitative"}}},
            {"data": {"name": "stats"}, "transform": [{"filter": "datum.p == 'd'"}], "mark": {"type": "tick", "orient": "vertical", "color": "#111", "thickness": 3, "size": 14, "opacity": 1}},
            {"data": {"name": "sig"}, "transform": [{"filter": "datum.p == 'd'"}], "mark": {"type": "rule", "color": "#111", "strokeWidth": 1.8}, "encoding": {"y2": {"field": "y2"}}},
            {"data": {"name": "stars"}, "transform": [{"filter": "datum.p == 'd'"}], "mark": {"type": "text", "text": "*", "fontSize": 15, "fontWeight": "bold", "dy": 4, "color": "#000"}}
          ]
        }
      ]
    }
  ]
}
